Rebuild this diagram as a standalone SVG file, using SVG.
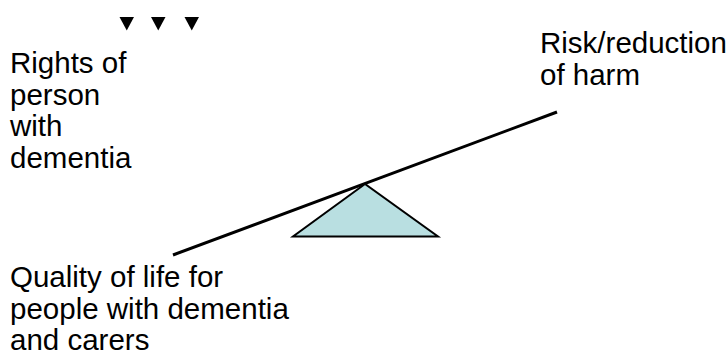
<svg xmlns="http://www.w3.org/2000/svg" width="728" height="354" viewBox="0 0 728 354">
<style>
.t{font-family:"Liberation Sans",Arial,sans-serif;font-size:29.5px;fill:#000}
.bul{fill:#000}
</style>
<rect width="728" height="354" fill="#fff"/>
<g id="connectors">
<line x1="173" y1="255" x2="557" y2="112" stroke="#000" stroke-width="3"/>
</g>
<g id="fulcrum">
<polygon points="365,184 293,236.5 438,236.5" fill="#b9dfe1" stroke="#000" stroke-width="2"/>
</g>
<g id="bullets">
<polygon class="bul" points="119.5,17 134,17 126.75,30.5"/>
<polygon class="bul" points="151,17 165.5,17 158.25,30.5"/>
<polygon class="bul" points="184.5,17 199,17 191.75,30.5"/>
</g>
<g id="rights">
<text class="t" x="10" y="73">Rights of</text>
<text class="t" x="10" y="104.5">person</text>
<text class="t" x="10" y="136">with</text>
<text class="t" x="10" y="167.5">dementia</text>
</g>
<g id="risk">
<text class="t" x="540" y="53">Risk/reduction</text>
<text class="t" x="540" y="85">of harm</text>
</g>
<g id="quality">
<text class="t" x="10" y="287">Quality of life for</text>
<text class="t" x="10" y="318.5">people with dementia</text>
<text class="t" x="10" y="349.5">and carers</text>
</g>
</svg>
